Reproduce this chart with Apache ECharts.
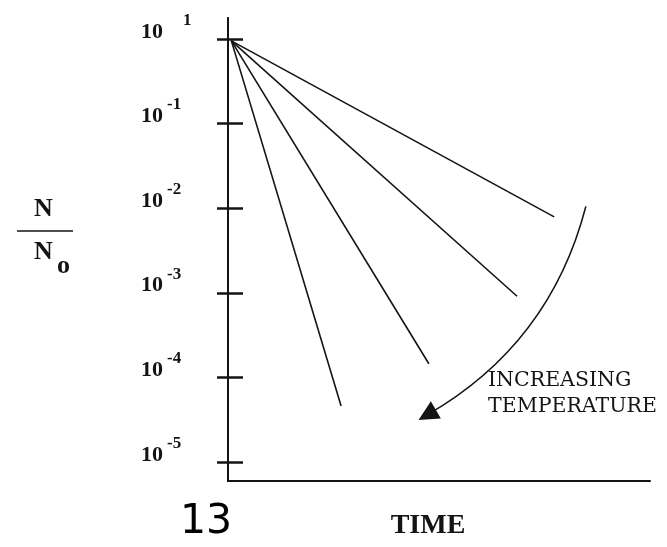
<!DOCTYPE html>
<html>
<head>
<meta charset="utf-8">
<script src="https://cdn.jsdelivr.net/npm/echarts@6/dist/echarts.min.js"></script>
<style>
html,body{margin:0;padding:0;background:#fff;}
#chart{width:667px;height:547px;}
</style>
</head>
<body>
<div id="chart"></div>
<script>
// ---- data ----
const tickValues = [1e-5, 1e-4, 1e-3, 1e-2, 1e-1, 1];
const tickExponents = ['-5', '-4', '-3', '-2', '-1', '1'];
const startTime = 0.08;
const startRatio = 0.95;
const endTimes = [7.73, 6.85, 4.76, 2.68];
const endRatios = [7.9e-3, 9.1e-4, 1.45e-4, 4.6e-5];
const arrowFrom = [8.48, 1.05e-2];
const arrowTo = [4.72, 3.6e-5];
const annotation = ['INCREASING', 'TEMPERATURE'];
const xName = 'TIME';
const pageNumber = '13';

const INK = '#141414';
const chart = echarts.init(document.getElementById('chart'), null, {renderer: 'canvas'});

function labelFor(v) {
  const e = Math.round(Math.log10(v));
  const i = tickValues.findIndex(t => Math.round(Math.log10(t)) === e);
  if (i < 0) return '';
  return (i === tickValues.length - 1 ? '{b|10}{st|' : '{b|10}{s|') + tickExponents[i] + '}';
}

const series = endTimes.map((t, i) => ({
  type: 'line',
  data: [[startTime, startRatio], [t, endRatios[i]]],
  symbol: 'none',
  silent: true,
  lineStyle: {color: INK, width: 1.6}
}));

series.push({
  type: 'lines',
  coordinateSystem: 'cartesian2d',
  silent: true,
  symbol: ['none', 'triangle'],
  symbolSize: [15, 20],
  lineStyle: {color: INK, width: 1.6, opacity: 1, curveness: 0.21},
  data: [{coords: [arrowFrom, arrowTo]}]
});

const yCommon = {
  type: 'log',
  logBase: 10,
  min: Math.pow(10, -5.225),
  max: Math.pow(10, 0.248),
  position: 'left',
  splitLine: {show: false},
  axisLine: {show: true, lineStyle: {color: INK, width: 2}}
};

chart.setOption({
  animation: false,
  backgroundColor: '#fff',
  grid: {left: 228, right: 17, top: 18, bottom: 66},
  xAxis: {
    type: 'value',
    min: 0,
    max: 10,
    axisLine: {show: true, onZero: false, lineStyle: {color: INK, width: 2}},
    axisTick: {show: false},
    axisLabel: {show: false},
    splitLine: {show: false},
    name: xName,
    nameLocation: 'middle',
    nameGap: 31,
    nameTextStyle: {fontFamily: 'Liberation Serif', fontWeight: 'bold', fontSize: 28, color: INK, padding: [0, 22, 0, 0]}
  },
  yAxis: [
    Object.assign({}, yCommon, {
      axisTick: {show: true, inside: false, length: 11, customValues: tickValues, lineStyle: {color: INK, width: 2.5}},
      axisLabel: {
        show: true,
        customValues: tickValues,
        margin: 87,
        align: 'left',
        padding: [0, 0, 23, 0],
        formatter: labelFor,
        rich: {
          b: {fontFamily: 'Liberation Serif', fontWeight: 'bold', fontSize: 22, color: INK, verticalAlign: 'bottom'},
          s: {fontFamily: 'Liberation Serif', fontWeight: 'bold', fontSize: 17, color: INK, verticalAlign: 'bottom', padding: [0, 0, 14, 4]},
          st: {fontFamily: 'Liberation Serif', fontWeight: 'bold', fontSize: 17, color: INK, verticalAlign: 'bottom', padding: [0, 0, 14, 20]}
        }
      }
    }),
    Object.assign({}, yCommon, {
      axisTick: {show: true, inside: true, length: 15, customValues: tickValues, lineStyle: {color: INK, width: 2.5}},
      axisLabel: {show: false}
    })
  ],
  series: series,
  graphic: [
    {type: 'text', left: 34, top: 196, style: {text: 'N', fontFamily: 'Liberation Serif', fontWeight: 'bold', fontSize: 26, fill: INK}},
    {type: 'line', shape: {x1: 17, y1: 231, x2: 73, y2: 231}, style: {stroke: INK, lineWidth: 1.3}},
    {type: 'text', left: 34, top: 239, style: {text: 'N', fontFamily: 'Liberation Serif', fontWeight: 'bold', fontSize: 26, fill: INK}},
    {type: 'text', left: 57, top: 253, style: {text: 'o', fontFamily: 'Liberation Serif', fontWeight: 'bold', fontSize: 26, fill: INK}},
    {type: 'text', left: 488, top: 370, style: {text: annotation[0], fontFamily: 'DejaVu Serif', fontSize: 20.5, fill: INK}},
    {type: 'text', left: 488, top: 396, style: {text: annotation[1], fontFamily: 'DejaVu Serif', fontSize: 20.5, fill: INK}},
    {type: 'text', left: 180, top: 502, style: {text: pageNumber, fontFamily: 'DejaVu Sans', fontSize: 41, fill: '#000'}}
  ]
});
</script>
</body>
</html>
